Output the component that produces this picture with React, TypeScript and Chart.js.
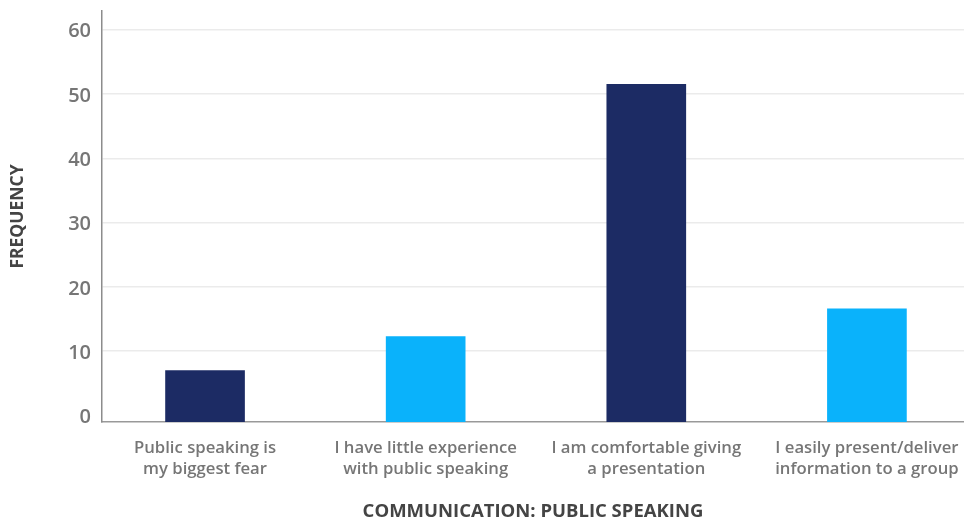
import React, { useEffect, useRef } from "react";
import { Chart, registerables } from "chart.js";

Chart.register(...registerables);

const categories: string[][] = [
  ["Public speaking is", "my biggest fear"],
  ["I have little experience", "with public speaking"],
  ["I am comfortable giving", "a presentation"],
  ["I easily present/deliver", "information to a group"],
];
const frequency: number[] = [7, 12.3, 51.5, 16.6];
const barColors: string[] = ["#1c2b64", "#0ab2fb", "#1c2b64", "#0ab2fb"];
const yTicks: number[] = [0, 10, 20, 30, 40, 50, 60];
const xTitle = "COMMUNICATION: PUBLIC SPEAKING";
const yTitle = "FREQUENCY";

export default function App() {
  const ref = useRef<HTMLCanvasElement | null>(null);

  useEffect(() => {
    if (!ref.current) return;
    Chart.defaults.font.family = "'Open Sans', sans-serif";
    const chart = new Chart(ref.current, {
      type: "bar",
      data: {
        datasets: [
          {
            data: frequency.map((y, i) => ({ x: i, y })),
            backgroundColor: barColors,
            borderWidth: 0,
            barThickness: 79,
            base: -1,
          } as any,
        ],
      },
      options: {
        animation: false,
        responsive: true,
        maintainAspectRatio: false,
        layout: { padding: { top: 11, left: 0, right: 0, bottom: 0 } },
        plugins: { legend: { display: false }, tooltip: { enabled: false } },
        scales: {
          x: {
            type: "linear",
            offset: false,
            min: -0.467,
            max: 3.44,
            afterBuildTicks: (s: any) => {
              s.ticks = categories.map((_, i) => ({ value: i }));
            },
            afterFit: (s: any) => {
              s.height = 99;
              s.paddingLeft = 0;
              s.paddingRight = 0;
            },
            grid: { display: false, drawTicks: false, offset: false },
            border: { display: true, color: "#999999", width: 1.5 },
            ticks: {
              autoSkip: false,
              maxRotation: 0,
              minRotation: 0,
              padding: 15,
              color: "#767676",
              font: { size: 16.7, weight: 600, lineHeight: 1.3 },
              callback: (v: any) => categories[Math.round(Number(v))] ?? "",
            },
            title: {
              display: true,
              text: xTitle,
              color: "#444444",
              font: { size: 18.5, weight: 700 },
              padding: { top: 0, bottom: -2 },
            },
          },
          y: {
            type: "linear",
            min: -1,
            max: 62.9,
            afterBuildTicks: (s: any) => {
              s.ticks = yTicks.map((v) => ({ value: v }));
            },
            afterFit: (s: any) => {
              s.width = 102;
              s.paddingTop = 0;
              s.paddingBottom = 0;
            },
            grid: {
              drawTicks: false,
              color: (ctx: any) => (ctx.tick && ctx.tick.value === 0 ? "rgba(0,0,0,0)" : "#ebebeb"),
              lineWidth: 1.5,
            },
            border: { display: true, color: "#8c8c8c", width: 1.5 },
            ticks: {
              padding: 11,
              labelOffset: 2,
              color: "#767676",
              font: { size: 20, weight: 600 },
            },
            title: {
              display: true,
              text: yTitle,
              color: "#444444",
              font: { size: 17.5, weight: 700 },
              padding: { top: 8, bottom: 0 },
            },
          },
        },
      },
    });
    return () => chart.destroy();
  }, []);

  return (
    <div style={{ position: "absolute", left: 0, top: 0, width: 964, height: 521 }}>
      <canvas ref={ref} />
    </div>
  );
}
